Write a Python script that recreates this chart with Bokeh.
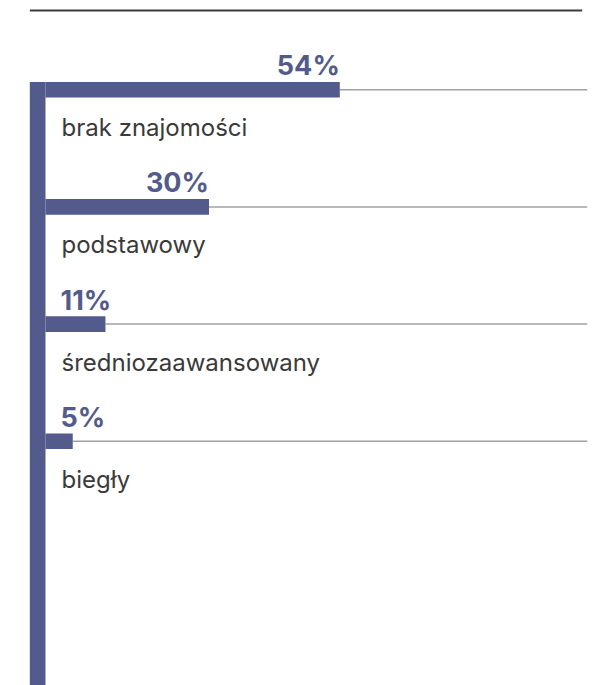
from bokeh.plotting import figure
from bokeh.models import Range1d, ColumnDataSource
from bokeh.core.properties import value
from bokeh.embed import file_html
from bokeh.resources import INLINE

# ---- data ----
categories = ["brak znajomości", "podstawowy", "średniozaawansowany", "biegły"]
percents = [54, 30, 11, 5]
pct_labels = ["54%", "30%", "11%", "5%"]

BAR_COLOR = "#535b8c"
TEXT_COLOR = "#3a3a3a"

W, H = 598, 685
# pixel geometry -> data mapping
X0_PX = 45.0          # x of 0 %
PX_PER_PCT = 5.45
Y0_PX = 89.2          # y of first category centre
PX_PER_CAT = 117.2

def px2x(px):
    return (px - X0_PX) / PX_PER_PCT

def px2y(px):
    return (px - Y0_PX) / PX_PER_CAT

p = figure(width=W, height=H, output_backend="svg", toolbar_location=None,
           x_range=Range1d(px2x(0), px2x(W)),
           y_range=Range1d(px2y(H), px2y(0)),
           min_border=0, min_border_left=0, min_border_right=0,
           min_border_top=0, min_border_bottom=0)
p.xaxis.visible = False
p.yaxis.visible = False
p.grid.visible = False
p.outline_line_color = None
p.background_fill_color = None
p.border_fill_color = "white"

idx = list(range(len(categories)))
bar_h = 15.6 / PX_PER_CAT

# small-value labels are left aligned near the axis, others right aligned at bar end
lab_x = [v if v >= 20 else px2x(60) for v in percents]
lab_align = ["right" if v >= 20 else "left" for v in percents]

src = ColumnDataSource(dict(
    y=idx, v=percents, cat=categories, pct=pct_labels,
    end=[px2x(586.7) for _ in idx],
    lx=lab_x, la=lab_align,
    cx=[px2x(61) for _ in idx],
))

# top rule
p.segment(x0=[px2x(29.3)], x1=[px2x(581.7)], y0=[px2y(10)], y1=[px2y(10)],
          line_color="#3a3a3a", line_width=2)

# grey reference lines
p.segment(x0="v", x1="end", y0="y", y1="y", source=src,
          line_color="#a0a0a0", line_width=1.5)

# bars
p.hbar(y="y", left=0, right="v", height=bar_h, source=src,
       fill_color=BAR_COLOR, line_color=None)

# thick vertical axis bar
p.quad(left=[px2x(29.3)], right=[0], top=[-bar_h / 2], bottom=[px2y(H + 20)],
       fill_color=BAR_COLOR, line_color=None)

# percentage labels
p.text(x="lx", y="y", text="pct", source=src, text_align="la",
       text_baseline="alphabetic", y_offset=-24,
       text_font=value("Inter"), text_font_style="bold",
       text_font_size="27px", text_color=BAR_COLOR)

# category labels
p.text(x="cx", y="y", text="cat", source=src, text_align="left",
       text_baseline="alphabetic", y_offset=38,
       text_font=value("Inter"), text_font_style="normal",
       text_font_size="24px", text_color=TEXT_COLOR)

open("out.html", "w").write(file_html(p, INLINE))
